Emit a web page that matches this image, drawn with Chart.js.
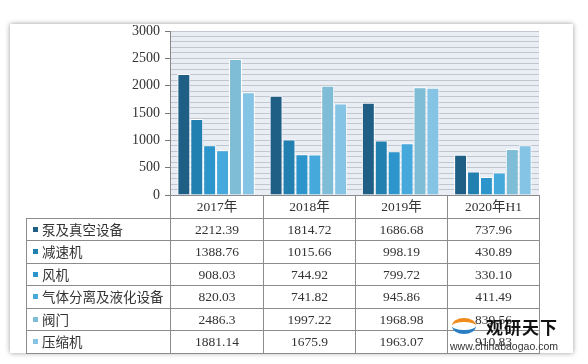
<!DOCTYPE html>
<html lang="zh-CN">

<head>
    <meta charset="UTF-8">
    <script src="https://cdn.jsdelivr.net/npm/chart.js"></script>
    <title>通用机械产量</title>
    <style>
        body { margin: 0; width: 588px; height: 364px; background: #fff; position: relative; overflow: hidden; }
        .cartao { position: absolute; left: 10px; top: 24px; width: 563px; height: 329px; background: #fff; box-shadow: 0 0 5px rgba(0, 0, 0, 0.4); }
        #grafico { position: absolute; left: 0; top: 0; }
        #tabela { position: absolute; left: 26px; top: 195px; border-collapse: collapse; table-layout: fixed;
            font-family: "Liberation Serif", "Noto Sans CJK SC", serif; font-size: 13.5px; color: #333; }
        #tabela tr { height: 22.5px; }
        #tabela td { border: 1px solid #8c8c8c; padding: 0; line-height: 15px; text-align: center; white-space: nowrap; }
        #tabela td.nome { text-align: left; padding-left: 6px; font-family: "Noto Sans CJK SC", sans-serif; font-size: 13.5px; }
        #tabela td.vazio { border: none; border-right: 1px solid #8c8c8c; }
        .quadrado { display: inline-block; width: 5px; height: 5px; margin-right: 4px; vertical-align: 3px; }
        .marca { position: absolute; left: 450px; top: 316px; width: 115px; height: 38px; }
        .logo { position: absolute; left: 2px; top: 2px; width: 24px; height: 16px; border-radius: 50%;
            border-top: 4px solid #f08a1c; border-bottom: 4px solid #2a7fc4; box-sizing: border-box; }
        .nome-marca { position: absolute; left: 36px; top: 0; font-family: "Noto Sans CJK SC", sans-serif; font-weight: bold; font-size: 17px; color: #111; line-height: 22px; letter-spacing: 1px; }
        .site { position: absolute; left: 0; top: 24px; font-family: "Liberation Sans", sans-serif; font-size: 10.5px; color: #333; }
    </style>
</head>

<body>
    <div class="cartao"></div>
    <canvas id="grafico" width="588" height="364"></canvas>
    <table id="tabela"></table>
    <div class="marca">
        <div class="logo"></div>
        <div class="nome-marca">观研天下</div>
        <div class="site">www.chinabaogao.com</div>
    </div>
</body>

</html>

<script>
    var anos = ['2017年', '2018年', '2019年', '2020年H1']
    var series = ['泵及真空设备', '减速机', '风机', '气体分离及液化设备', '阀门', '压缩机']
    var bombas = [2212.39, 1814.72, 1686.68, 737.96]
    var redutores = [1388.76, 1015.66, 998.19, 430.89]
    var ventiladores = [908.03, 744.92, 799.72, 330.10]
    var separacaoGas = [820.03, 741.82, 945.86, 411.49]
    var valvulas = [2486.3, 1997.22, 1968.98, 839.56]
    var compressores = [1881.14, 1675.9, 1963.07, 910.83]
    // como aparecem na tabela
    var textos = [
        ['2212.39', '1814.72', '1686.68', '737.96'],
        ['1388.76', '1015.66', '998.19', '430.89'],
        ['908.03', '744.92', '799.72', '330.10'],
        ['820.03', '741.82', '945.86', '411.49'],
        ['2486.3', '1997.22', '1968.98', '839.56'],
        ['1881.14', '1675.9', '1963.07', '910.83']
    ]
    var ticksY = [0, 500, 1000, 1500, 2000, 2500, 3000]
    var cores = ['#1f5f86', '#2280b0', '#2b95cc', '#45a9dc', '#7fbcd5', '#86c4e6']

    var valores = [bombas, redutores, ventiladores, separacaoGas, valvulas, compressores]

    var fundoPlot = {
        id: 'fundoPlot',
        beforeDraw: function (chart) {
            var a = chart.chartArea
            var ctx = chart.ctx
            ctx.save()
            ctx.fillStyle = '#e9edf4'
            ctx.fillRect(a.left, a.top, a.right - a.left, a.bottom - a.top)
            ctx.restore()
        }
    }

    var datasets = series.map(function (nome, i) {
        return {
            label: nome,
            data: valores[i],
            backgroundColor: cores[i],
            borderColor: '#ffffff',
            borderWidth: 1,
            categoryPercentage: 0.84,
            barPercentage: 1.0
        }
    })

    new Chart(document.getElementById('grafico'), {
        type: 'bar',
        data: { labels: anos, datasets: datasets },
        options: {
            responsive: false,
            animation: false,
            layout: { padding: { left: 110, right: 49, top: 31, bottom: 169 } },
            plugins: { legend: { display: false }, tooltip: { enabled: false } },
            scales: {
                x: { display: false },
                y: {
                    min: 0,
                    max: 3000,
                    afterFit: function (scale) { scale.width = 60 },
                    ticks: {
                        stepSize: 100,
                        autoSkip: false,
                        padding: 5,
                        color: '#333',
                        font: { family: 'Liberation Serif', size: 14 },
                        callback: function (v) { return ticksY.indexOf(v) >= 0 ? String(v) : '' }
                    },
                    grid: {
                        color: '#c2c7cf',
                        tickLength: 5,
                        tickColor: function (c) { return c.tick && c.tick.value % 500 == 0 ? '#777' : 'rgba(0,0,0,0)' }
                    },
                    border: { color: '#888' }
                }
            }
        },
        plugins: [fundoPlot]
    })

    // tabela de dados
    var larguras = [144, 93, 92, 92, 92]
    var html = '<colgroup>' + larguras.map(function (w) { return '<col style="width:' + w + 'px">' }).join('') + '</colgroup>'
    html += '<tr><td class="vazio"></td>' + anos.map(function (a) { return '<td>' + a + '</td>' }).join('') + '</tr>'
    for (var i = 0; i < series.length; i++) {
        html += '<tr><td class="nome"><span class="quadrado" style="background:' + cores[i] + '"></span>' + series[i] + '</td>'
        for (var j = 0; j < anos.length; j++) {
            html += '<td>' + textos[i][j] + '</td>'
        }
        html += '</tr>'
    }
    document.getElementById('tabela').innerHTML = html
</script>
